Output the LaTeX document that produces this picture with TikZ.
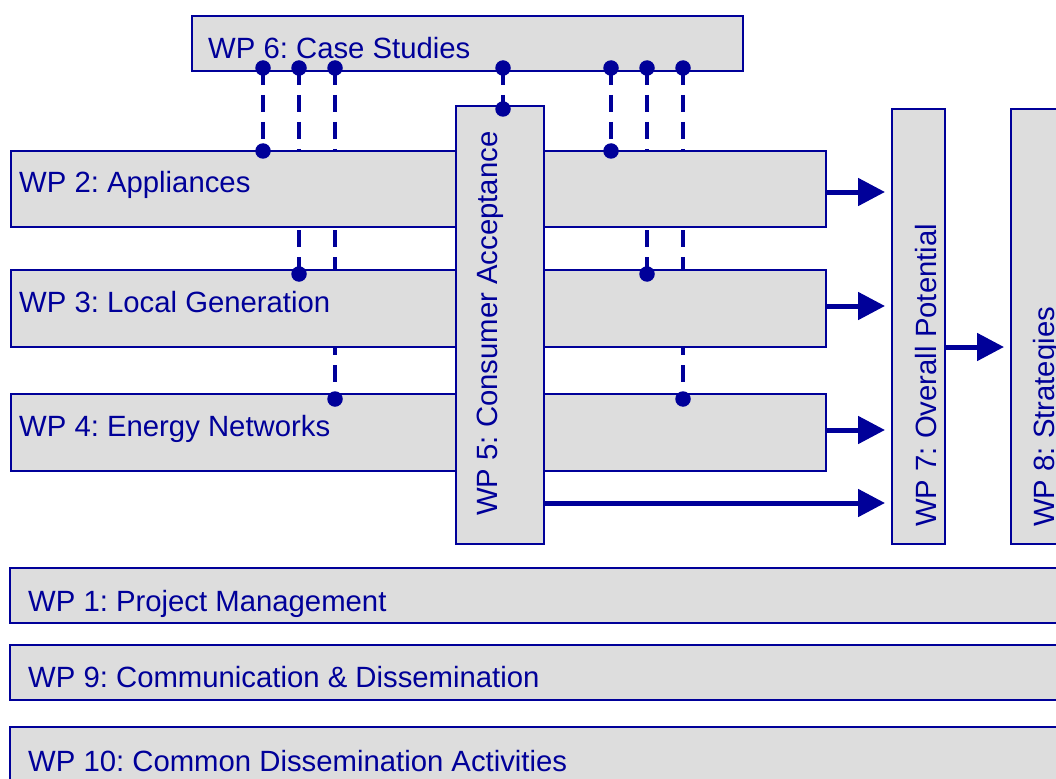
\documentclass[tikz,border=0pt]{standalone}
\usepackage{fontspec}
\setmainfont{Liberation Sans}
\usetikzlibrary{arrows.meta}
\definecolor{wpblue}{RGB}{0,0,153}
\definecolor{wpgray}{RGB}{221,221,221}
\frenchspacing

\begin{document}
\begin{tikzpicture}[x=1pt,y=-1pt,
  box/.style={draw=wpblue, fill=wpgray, line width=2.4pt, rectangle, inner sep=0pt, outer sep=0pt},
  lbl/.style={text=wpblue, font=\fontsize{29.3}{34}\selectfont, inner sep=0pt, anchor=base west},
  vlbl/.style={lbl, rotate=90},
  link/.style={draw=wpblue, line width=3.5pt, dash pattern=on 17pt off 10pt},
  dot/.style={circle, fill=wpblue, draw=none, inner sep=0pt, minimum size=15.5pt},
  flow/.style={draw=wpblue, line width=5pt, -{Triangle[length=27pt,width=27pt]}, shorten >=7pt}]

\useasboundingbox (0,0) rectangle (1056,778);
\clip (0,0) rectangle (1056,778);

% junction points on the lower edge of WP 6
\coordinate (t1) at (263,68);
\coordinate (t2) at (299,68);
\coordinate (t3) at (335,68);
\coordinate (t5) at (503,68);
\coordinate (t6) at (611,68);
\coordinate (t7) at (647,68);
\coordinate (t8) at (683,68);
% junction points on the work packages below
\coordinate (b1) at (263,151);
\coordinate (b2) at (299,274);
\coordinate (b3) at (335,399);
\coordinate (b5) at (503,109);
\coordinate (b6) at (611,151);
\coordinate (b7) at (647,274);
\coordinate (b8) at (683,399);

% dashed links, drawn first so the boxes cover them
\foreach \i in {1,2,3,5,6,7,8} {\draw[link] (t\i) -- (b\i);}

% work package boxes
\node[box, minimum width=551pt, minimum height=55pt] (wp6) at (467.5,43.5) {};
\node[box, minimum width=815pt, minimum height=76pt] (wp2) at (418.5,189) {};
\node[box, minimum width=815pt, minimum height=77pt] (wp3) at (418.5,308.5) {};
\node[box, minimum width=815pt, minimum height=77pt] (wp4) at (418.5,432.5) {};
\node[box, minimum width=88pt, minimum height=438pt] (wp5) at (500,325) {};
\node[box, minimum width=53pt, minimum height=435pt] (wp7) at (918.5,326.5) {};
\node[box, minimum width=60pt, minimum height=435pt] (wp8) at (1041,326.5) {};
\node[box, minimum width=1100pt, minimum height=55pt] (wp1) at (560,595.5) {};
\node[box, minimum width=1100pt, minimum height=55pt] (wp9) at (560,672.5) {};
\node[box, minimum width=1100pt, minimum height=80pt] (wp10) at (560,767) {};

% labels
\node[lbl] (l6) at (208,59) {WP 6: Case Studies};
\node[lbl] (l2) at (19,192) {WP 2: Appliances};
\node[lbl] (l3) at (19,312) {WP 3: Local Generation};
\node[lbl] (l4) at (19,436) {WP 4: Energy Networks};
\node[vlbl] (l5) at (497,516) {WP 5: Consumer Acceptance};
\node[vlbl] (l7) at (936,527) {WP 7: Overall Potential};
\node[vlbl] (l8) at (1054,527) {WP 8: Strategies};
\node[lbl] (l1) at (28,611) {WP 1: Project Management};
\node[lbl] (l9) at (28,687) {WP 9: Communication \& Dissemination};
\node[lbl] (l10) at (28,771) {WP 10: Common Dissemination Activities};

% junction dots
\foreach \i in {1,2,3,5,6,7,8} {
  \node[dot] (tt\i) at (t\i) {};
  \node[dot] (bb\i) at (b\i) {};
}

% flows into WP 7 and WP 8
\coordinate (a2) at ([yshift=-3pt]wp2.east);
\coordinate (a3) at ([yshift=2.5pt]wp3.east);
\coordinate (a4) at ([yshift=2.5pt]wp4.east);
\coordinate (a5) at ([yshift=-178pt]wp5.east);
\coordinate (a7) at ([yshift=-20.5pt]wp7.east);
\draw[flow] (a2) -- (a2 -| wp7.west);
\draw[flow] (a3) -- (a3 -| wp7.west);
\draw[flow] (a4) -- (a4 -| wp7.west);
\draw[flow] (a5) -- (a5 -| wp7.west);
\draw[flow] (a7) -- (a7 -| wp8.west);
\end{tikzpicture}
\end{document}
